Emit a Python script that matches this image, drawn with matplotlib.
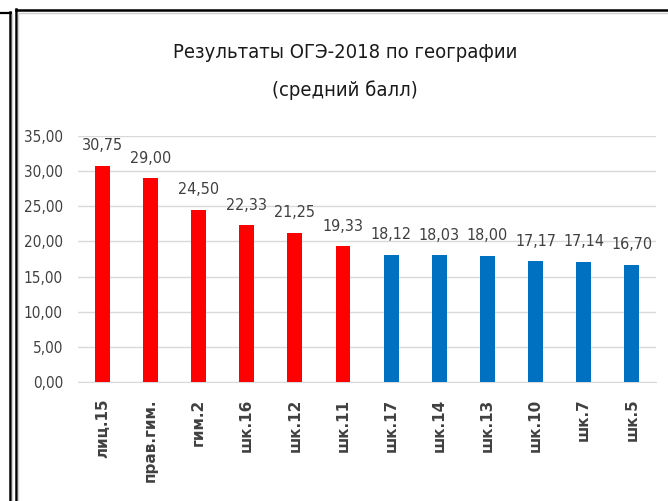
import matplotlib
matplotlib.use('Agg')
import matplotlib.pyplot as plt
from matplotlib.lines import Line2D
from matplotlib import font_manager

# data
schools = ['лиц.15', 'прав.гим.', 'гим.2', 'шк.16', 'шк.12', 'шк.11',
           'шк.17', 'шк.14', 'шк.13', 'шк.10', 'шк.7', 'шк.5']
scores = [30.75, 29.00, 24.50, 22.33, 21.25, 19.33,
          18.12, 18.03, 18.00, 17.17, 17.14, 16.70]
n_red = 6
yticks = [0, 5, 10, 15, 20, 25, 30, 35]

names = {f.name for f in font_manager.fontManager.ttflist}
narrow = 'Liberation Sans Narrow' if 'Liberation Sans Narrow' in names else 'DejaVu Sans'
cond = dict(family=narrow, fontstretch='condensed')

fig = plt.figure(figsize=(6.68, 5.01), dpi=100)
ax = fig.add_axes([0.117, 0.2375, 0.865, 0.491])

colors = ['#FF0000'] * n_red + ['#0070C0'] * (len(scores) - n_red)
x = range(len(schools))
ax.bar(x, scores, width=0.31, color=colors, zorder=3)
for i, v in zip(x, scores):
    ax.annotate(('%.2f' % v).replace('.', ','), (i, v), xytext=(0, 9),
                textcoords='offset points', ha='center', va='bottom',
                fontsize=11.5, color='#404040', **cond)

ax.set_xlim(-0.5, len(schools) - 0.5)
ax.set_ylim(0, 35)
ax.set_yticks(yticks)
ax.set_yticklabels([('%.2f' % t).replace('.', ',') for t in yticks],
                   fontsize=11, color='#404040', **cond)
ax.set_xticks(list(x))
ax.set_xticklabels(schools, rotation=90, fontsize=11, color='#404040',
                   family='DejaVu Sans', fontweight='bold')
ax.tick_params(length=0, pad=11)
ax.tick_params(axis='x', pad=12)
ax.grid(axis='y', color='#D9D9D9', linewidth=1, zorder=0)
for s in ['top', 'right', 'left']:
    ax.spines[s].set_visible(False)
ax.spines['bottom'].set_color('#D9D9D9')

fig.text(0.516, 0.896, 'Результаты ОГЭ-2018 по географии', ha='center',
         va='center', fontsize=14.5, color='#1a1a1a', **cond)
fig.text(0.516, 0.82, '(средний балл)', ha='center', va='center',
         fontsize=14.5, color='#1a1a1a', **cond)

# screenshot frame lines
def fl(xs, ys, lw, c='black'):
    fig.add_artist(Line2D([v / 668 for v in xs], [1 - v / 501 for v in ys],
                          color=c, linewidth=lw, transform=fig.transFigure))

fl([0, 11], [12.5, 12.5], 1.6)
fl([10, 10], [12, 501], 1.8)
fl([12.5, 12.5], [14, 501], 1.0, '#D0D0D0')
fl([15.5, 668], [10, 10], 1.8)
fl([15.5, 15.5], [9, 501], 1.8)
fl([18, 668], [13, 13], 1.0, '#D0D0D0')
fl([18, 18], [13, 501], 1.0, '#D0D0D0')

fig.savefig('out.png', dpi=100)
